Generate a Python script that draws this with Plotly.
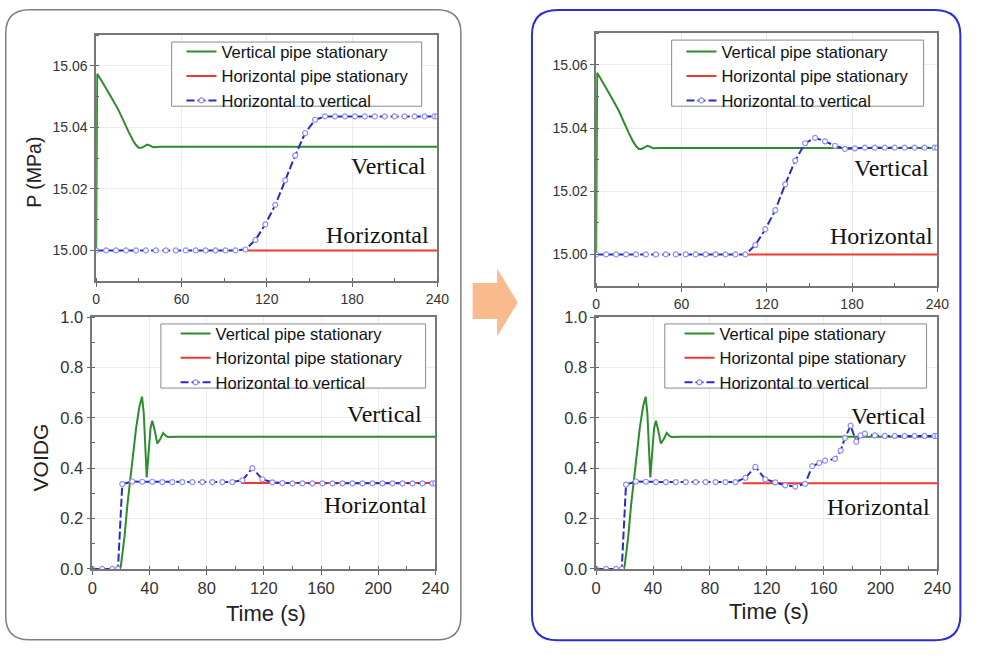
import plotly.graph_objects as go

# reference canvas (985 x 660); the page body keeps an 8 px margin, so the
# figure itself is a bit smaller and every pixel position is shifted by 8 px
REF_W, REF_H = 985, 660
OX, OY = 8, 8
W, H = 968, 643

# ---------------- data ----------------
# Pressure (MPa) - vertical pipe stationary (same in both panels)
GREEN_P_T = [0, 0.7, 4, 8, 12, 16, 20, 23, 26, 28, 30, 32, 34, 36, 38, 40, 45, 60, 240]
GREEN_P = [15.000, 15.0575, 15.0550, 15.0520, 15.0487, 15.0454, 15.0412, 15.0384, 15.0357,
           15.0343, 15.0334, 15.0334, 15.0339, 15.0344, 15.0341, 15.0336, 15.0337, 15.0337, 15.0337]

# Pressure - horizontal pipe stationary
RED_P_T = [105, 240]
RED_P = [15.000, 15.000]

# Pressure - horizontal to vertical
BLUE_P_T = [0, 7, 14, 21, 28, 35, 42, 49, 56, 63, 70, 77, 84, 91, 98,
            105, 112, 119, 126, 133, 140, 147, 154, 161, 168, 175, 182,
            189, 196, 203, 210, 217, 224, 231, 238, 240]
BLUE_P_LEFT = [15.000, 15.000, 15.000, 15.000, 15.000, 15.000, 15.000, 15.000,
               15.000, 15.000, 15.000, 15.000, 15.000, 15.000, 15.000,
               15.0003, 15.0034, 15.0085, 15.0148, 15.0228, 15.0309, 15.0382,
               15.0425, 15.0436, 15.0436, 15.0436, 15.0436,
               15.0436, 15.0436, 15.0436, 15.0436, 15.0436, 15.0436, 15.0436,
               15.0436, 15.0436]
BLUE_P_RIGHT = [15.000, 15.000, 15.000, 15.000, 15.000, 15.000, 15.000, 15.000,
                15.000, 15.000, 15.000, 15.000, 15.000, 15.000, 15.000,
                15.0000, 15.0030, 15.0080, 15.0140, 15.0222, 15.0297, 15.0352,
                15.0369, 15.0358, 15.0344, 15.0334, 15.0336,
                15.0338, 15.0338, 15.0338, 15.0338, 15.0338, 15.0338, 15.0338,
                15.0338, 15.0338]

# Void fraction - vertical pipe stationary
GREEN_V_T = [0, 19, 20, 21, 22.6, 24.5, 27.2, 30.6, 33, 34.8, 36, 37, 38.1, 39.5, 40.8,
             42, 43.5, 45.5, 47.5, 49.6, 51.5, 53, 60, 240]
GREEN_V = [0, 0, 0.01, 0.05, 0.13, 0.25, 0.39, 0.556, 0.645, 0.684, 0.62, 0.50, 0.363, 0.47,
           0.56, 0.588, 0.555, 0.498, 0.515, 0.54, 0.528, 0.524, 0.525, 0.525]

# Void fraction - horizontal pipe stationary
RED_V_LEFT_T = [104, 240]
RED_V_LEFT = [0.341, 0.341]
RED_V_RIGHT_T = [103, 240]
RED_V_RIGHT = [0.340, 0.340]

# Void fraction - horizontal to vertical
BLUE_V_LEFT_T = [0, 7, 14, 18, 21, 28, 35, 42, 49, 56, 63, 70, 77, 84, 91, 98,
                 105, 112, 119, 126, 133, 140, 147, 154, 161, 168, 175, 182, 189,
                 196, 203, 210, 217, 224, 231, 238, 240]
BLUE_V_LEFT = [0, 0, 0, 0, 0.337, 0.347, 0.346, 0.346, 0.345, 0.345, 0.345, 0.345, 0.345,
               0.345, 0.345, 0.345, 0.352, 0.400, 0.356, 0.344, 0.341, 0.340, 0.340, 0.340,
               0.340, 0.340, 0.340, 0.340, 0.340, 0.340, 0.340, 0.340, 0.340, 0.340, 0.340,
               0.340, 0.340]
BLUE_V_RIGHT_T = [0, 7, 14, 18, 21, 28, 35, 42, 49, 56, 63, 70, 77, 84, 91, 98,
                  105, 112, 119, 126, 133, 140, 147, 152, 157, 161, 168, 172, 175, 179,
                  183, 186, 189, 196, 203, 210, 217, 224, 231, 238, 240]
BLUE_V_RIGHT = [0, 0, 0, 0, 0.335, 0.347, 0.346, 0.345, 0.345, 0.345, 0.345, 0.345, 0.345,
                0.345, 0.345, 0.345, 0.362, 0.405, 0.356, 0.344, 0.332, 0.327, 0.338, 0.408,
                0.421, 0.430, 0.437, 0.470, 0.520, 0.569, 0.505, 0.530, 0.537, 0.530, 0.528,
                0.528, 0.528, 0.528, 0.528, 0.528, 0.528]

SERIES_NAMES = ["Vertical pipe stationary", "Horizontal pipe stationary", "Horizontal to vertical"]
P_TICKS = [15.00, 15.02, 15.04, 15.06]
P_TIME_TICKS = [0, 60, 120, 180, 240]
V_TICKS = [0.0, 0.2, 0.4, 0.6, 0.8, 1.0]
V_TIME_TICKS = [0, 40, 80, 120, 160, 200, 240]

# ---------------- styling ----------------
GREEN = "#2e8b2e"
RED = "#ec3a30"
BLUE = "#2a2ac4"
FONT = "Arial, Liberation Sans, sans-serif"
SERIF = "Times New Roman, Liberation Serif, serif"


def px(x):
    return (x - OX) / W


def py(y):
    return 1 - (y - OY) / H


fig = go.Figure()

panels = [
    (1, (GREEN_P_T, GREEN_P), (RED_P_T, RED_P), (BLUE_P_T, BLUE_P_LEFT)),
    (2, (GREEN_V_T, GREEN_V), (RED_V_LEFT_T, RED_V_LEFT), (BLUE_V_LEFT_T, BLUE_V_LEFT)),
    (3, (GREEN_P_T, GREEN_P), (RED_P_T, RED_P), (BLUE_P_T, BLUE_P_RIGHT)),
    (4, (GREEN_V_T, GREEN_V), (RED_V_RIGHT_T, RED_V_RIGHT), (BLUE_V_RIGHT_T, BLUE_V_RIGHT)),
]

for k, g, r, b in panels:
    xa = "x" if k == 1 else f"x{k}"
    ya = "y" if k == 1 else f"y{k}"
    lg = "legend" if k == 1 else f"legend{k}"
    fig.add_trace(go.Scatter(x=g[0], y=g[1], mode="lines", name=SERIES_NAMES[0],
                             line=dict(color=GREEN, width=2), xaxis=xa, yaxis=ya, legend=lg))
    fig.add_trace(go.Scatter(x=r[0], y=r[1], mode="lines", name=SERIES_NAMES[1],
                             line=dict(color=RED, width=2), xaxis=xa, yaxis=ya, legend=lg))
    fig.add_trace(go.Scatter(x=b[0], y=b[1], mode="lines+markers", name=SERIES_NAMES[2],
                             line=dict(color=BLUE, width=2, dash="8px,3px"),
                             marker=dict(symbol="circle", size=5, color="white",
                                         line=dict(color="#8f8ff5", width=1.2)),
                             xaxis=xa, yaxis=ya, legend=lg))

# plot-area domains in reference pixels
dom = {
    1: dict(x=(101, 449), y=(35, 288)),
    2: dict(x=(97, 447), y=(325, 584)),
    3: dict(x=(611, 959), y=(33, 293)),
    4: dict(x=(611, 959), y=(325, 584)),
}


def axis_style(size):
    return dict(showline=True, linecolor="#777777", linewidth=1.5, mirror=True,
                ticks="outside", ticklen=4, tickwidth=1.2, tickcolor="#666666",
                showgrid=True, gridcolor="#ececec", gridwidth=1, zeroline=False,
                tickfont=dict(family=FONT, size=size, color="#333333"))


for k in range(1, 5):
    d = dom[k]
    top = k in (1, 3)
    xname = "xaxis" if k == 1 else f"xaxis{k}"
    yname = "yaxis" if k == 1 else f"yaxis{k}"
    ya = "y" if k == 1 else f"y{k}"
    xa = "x" if k == 1 else f"x{k}"
    st = axis_style(14 if top else 16.5)
    fig.update_layout(**{
        xname: dict(domain=[px(d["x"][0]), px(d["x"][1])], anchor=ya, range=[0, 240],
                    tickvals=P_TIME_TICKS if top else V_TIME_TICKS,
                    minor=dict(ticks="inside", ticklen=3, tickcolor="#666666",
                               dtick=30 if top else 20, showgrid=False),
                    **st),
        yname: dict(domain=[py(d["y"][1]), py(d["y"][0])], anchor=xa,
                    range=[14.99, 15.07] if top else [0, 1.0],
                    tickvals=P_TICKS if top else V_TICKS,
                    tickformat=".2f" if top else ".1f",
                    minor=dict(ticks="inside", ticklen=3, tickcolor="#666666",
                               dtick=0.01 if top else 0.1, showgrid=False),
                    **st),
    })

# legend boxes (reference pixel rects) and legend text anchors (left, top)
legend_box = {1: (178, 42, 433, 108), 2: (167, 332, 437, 398),
              3: (688, 40, 945, 108), 4: (681, 332, 948, 398)}
legend_pos = {1: (188, 34), 2: (182, 324), 3: (698, 34), 4: (696, 324)}
for k in range(1, 5):
    lname = "legend" if k == 1 else f"legend{k}"
    x0, y0 = legend_pos[k]
    fig.update_layout(**{lname: dict(x=px(x0), y=py(y0), xanchor="left", yanchor="top",
                                     bgcolor="rgba(0,0,0,0)", borderwidth=0,
                                     font=dict(family=FONT, size=16.5, color="#111111"),
                                     tracegroupgap=0, itemwidth=30)})

annotations = []
labels = [("Vertical", 439, 170), ("Horizontal", 443, 240),
          ("Vertical", 435, 425), ("Horizontal", 440, 518),
          ("Vertical", 953, 172), ("Horizontal", 957, 242),
          ("Vertical", 949, 427), ("Horizontal", 954, 520)]
for txt, xr, yc in labels:
    annotations.append(dict(text=txt, x=px(xr), y=py(yc), xref="paper", yref="paper",
                            xanchor="right", yanchor="middle", showarrow=False,
                            font=dict(family=SERIF, size=24, color="#111111")))
annotations += [
    dict(text="P (MPa)", x=px(38), y=py(176), xref="paper", yref="paper", textangle=-90,
         showarrow=False, xanchor="center", yanchor="middle",
         font=dict(family=FONT, size=19.5, color="#222222")),
    dict(text="VOIDG", x=px(44), y=py(469), xref="paper", yref="paper", textangle=-90,
         showarrow=False, xanchor="center", yanchor="middle",
         font=dict(family=FONT, size=21, color="#222222")),
    dict(text="Time (s)", x=px(274), y=py(630), xref="paper", yref="paper",
         showarrow=False, xanchor="center", yanchor="middle",
         font=dict(family=FONT, size=22, color="#222222")),
    dict(text="Time (s)", x=px(787), y=py(628), xref="paper", yref="paper",
         showarrow=False, xanchor="center", yanchor="middle",
         font=dict(family=FONT, size=22, color="#222222")),
]


def rounded_rect(x0, y0, x1, y1, r):
    pts = [f"M {px(x0 + r)},{py(y0)}",
           f"L {px(x1 - r)},{py(y0)}",
           f"Q {px(x1)},{py(y0)} {px(x1)},{py(y0 + r)}",
           f"L {px(x1)},{py(y1 - r)}",
           f"Q {px(x1)},{py(y1)} {px(x1 - r)},{py(y1)}",
           f"L {px(x0 + r)},{py(y1)}",
           f"Q {px(x0)},{py(y1)} {px(x0)},{py(y1 - r)}",
           f"L {px(x0)},{py(y0 + r)}",
           f"Q {px(x0)},{py(y0)} {px(x0 + r)},{py(y0)}",
           "Z"]
    return " ".join(pts)


arrow_pts = [(485, 290), (510, 290), (510, 275), (531, 310), (510, 345), (510, 327), (485, 327)]
arrow_path = "M " + " L ".join(f"{px(a)},{py(b)}" for a, b in arrow_pts) + " Z"

shapes = [
    dict(type="path", path=rounded_rect(8.8, 8.8, 473, 657, 24), xref="paper", yref="paper",
         line=dict(color="#7d7d7d", width=1.5), layer="below"),
    dict(type="path", path=rounded_rect(545.5, 9, 982.5, 657.5, 26), xref="paper", yref="paper",
         line=dict(color="#2d2dd8", width=2), layer="below"),
    dict(type="path", path=arrow_path, xref="paper", yref="paper",
         fillcolor="#f9bb8d", line=dict(width=0), layer="below"),
]
for k in range(1, 5):
    x0, y0, x1, y1 = legend_box[k]
    shapes.append(dict(type="rect", xref="paper", yref="paper",
                       x0=px(x0), x1=px(x1), y0=py(y1), y1=py(y0),
                       fillcolor="white", line=dict(color="#8a8a8a", width=1), layer="above"))

fig.update_layout(width=W, height=H, margin=dict(l=0, r=0, t=0, b=0),
                  paper_bgcolor="white", plot_bgcolor="white",
                  annotations=annotations, shapes=shapes, showlegend=True,
                  font=dict(family=FONT))

fig.write_html("out.html")
